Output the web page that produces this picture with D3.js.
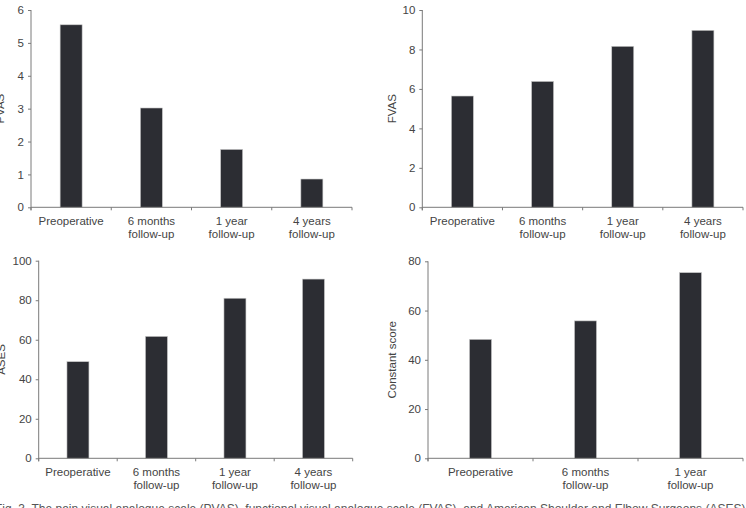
<!DOCTYPE html>
<html>
<head>
<meta charset="utf-8">
<script src="https://cdn.jsdelivr.net/npm/d3@7"></script>
<style>
  html, body { margin: 0; padding: 0; background: #fff; }
  svg { display: block; }
  text { font-family: "Liberation Sans", Arial, sans-serif; }
</style>
</head>
<body>
<svg id="chart" width="746" height="508"></svg>
<script>
// ---- data ----
const categories4 = ["Preoperative", "6 months\nfollow-up", "1 year\nfollow-up", "4 years\nfollow-up"];
const categories3 = ["Preoperative", "6 months\nfollow-up", "1 year\nfollow-up"];
const pvasValues = [5.55, 3.02, 1.76, 0.86];
const fvasValues = [5.64, 6.38, 8.16, 8.97];
const asesValues = [48.9, 61.7, 81.0, 90.7];
const constantValues = [48.3, 55.8, 75.4];
const pvasTicks = [0, 1, 2, 3, 4, 5, 6];
const fvasTicks = [0, 2, 4, 6, 8, 10];
const asesTicks = [0, 20, 40, 60, 80, 100];
const constantTicks = [0, 20, 40, 60, 80];
const yTitles = ["PVAS", "FVAS", "ASES", "Constant score"];
const caption = "Fig. 3. The pain visual analogue scale (PVAS), functional visual analogue scale (FVAS), and American Shoulder and Elbow Surgeons (ASES) score significantly";

const svg = d3.select("#chart");
const axisColor = "#7a7a7a";
const textColor = "#444";
const barColor = "#2c2d33";

function drawPanel(opt) {
  const g = svg.append("g");
  const x = d3.scaleBand().domain(opt.categories).range([opt.left, opt.right]).padding(0);
  const y = d3.scaleLinear().domain([0, opt.ticks[opt.ticks.length - 1]]).range([opt.bottom, opt.top]);
  const barW = 22;

  // bars
  g.selectAll("rect.bar").data(opt.values).enter().append("rect")
    .attr("class", "bar")
    .attr("x", (d, i) => x(opt.categories[i]) + x.bandwidth() / 2 - barW / 2)
    .attr("y", d => y(d))
    .attr("width", barW)
    .attr("height", d => y(0) - y(d))
    .attr("fill", barColor)
    .attr("stroke", "#c8c8c8")
    .attr("stroke-width", 0.6);

  // y axis
  const yAxis = d3.axisLeft(y).tickValues(opt.ticks).tickSize(3).tickSizeOuter(0).tickPadding(4)
    .tickFormat(d3.format("d"));
  const ya = g.append("g").attr("transform", `translate(${opt.left},0)`).call(yAxis);
  ya.select(".domain").attr("stroke", axisColor).attr("d", `M0,${opt.top}V${opt.bottom + 3}`);
  ya.selectAll(".tick line").attr("stroke", axisColor);
  ya.selectAll(".tick text").attr("fill", textColor).style("font-size", "11.5px")
    .style("font-family", "'Liberation Sans', Arial, sans-serif");

  // x axis line
  g.append("line").attr("x1", opt.left).attr("x2", opt.right)
    .attr("y1", y(0)).attr("y2", y(0)).attr("stroke", axisColor);
  // boundary ticks
  const bounds = opt.categories.map(c => x(c)).concat([opt.right]);
  g.selectAll("line.xt").data(bounds).enter().append("line")
    .attr("class", "xt")
    .attr("x1", d => d).attr("x2", d => d)
    .attr("y1", y(0)).attr("y2", y(0) + 3)
    .attr("stroke", axisColor);
  // category labels
  opt.categories.forEach(c => {
    const t = g.append("text")
      .attr("x", x(c) + x.bandwidth() / 2)
      .attr("y", y(0) + 18)
      .attr("text-anchor", "middle")
      .attr("fill", textColor)
      .style("font-size", "11.5px");
    c.split("\n").forEach((line, i) => {
      t.append("tspan").attr("x", x(c) + x.bandwidth() / 2).attr("dy", i === 0 ? 0 : 13).text(line);
    });
  });

  // y title
  g.append("text")
    .attr("transform", `translate(${opt.titleX},${(opt.top + opt.bottom) / 2}) rotate(-90)`)
    .attr("text-anchor", "middle")
    .attr("fill", textColor)
    .style("font-size", "11.5px")
    .text(opt.title);
}

drawPanel({ categories: categories4, values: pvasValues, ticks: pvasTicks, title: yTitles[0],
  left: 31, right: 352, top: 10, bottom: 207.3, titleX: 4 });
drawPanel({ categories: categories4, values: fvasValues, ticks: fvasTicks, title: yTitles[1],
  left: 422.3, right: 743, top: 10, bottom: 207.3, titleX: 395.5 });
drawPanel({ categories: categories4, values: asesValues, ticks: asesTicks, title: yTitles[2],
  left: 38.7, right: 352.7, top: 260.7, bottom: 458.3, titleX: 5 });
drawPanel({ categories: categories3, values: constantValues, ticks: constantTicks, title: yTitles[3],
  left: 428, right: 743, top: 261.3, bottom: 458.3, titleX: 396 });

svg.append("text").attr("x", -5).attr("y", 513)
  .attr("fill", "#555").style("font-size", "12px").text(caption);
</script>
</body>
</html>
